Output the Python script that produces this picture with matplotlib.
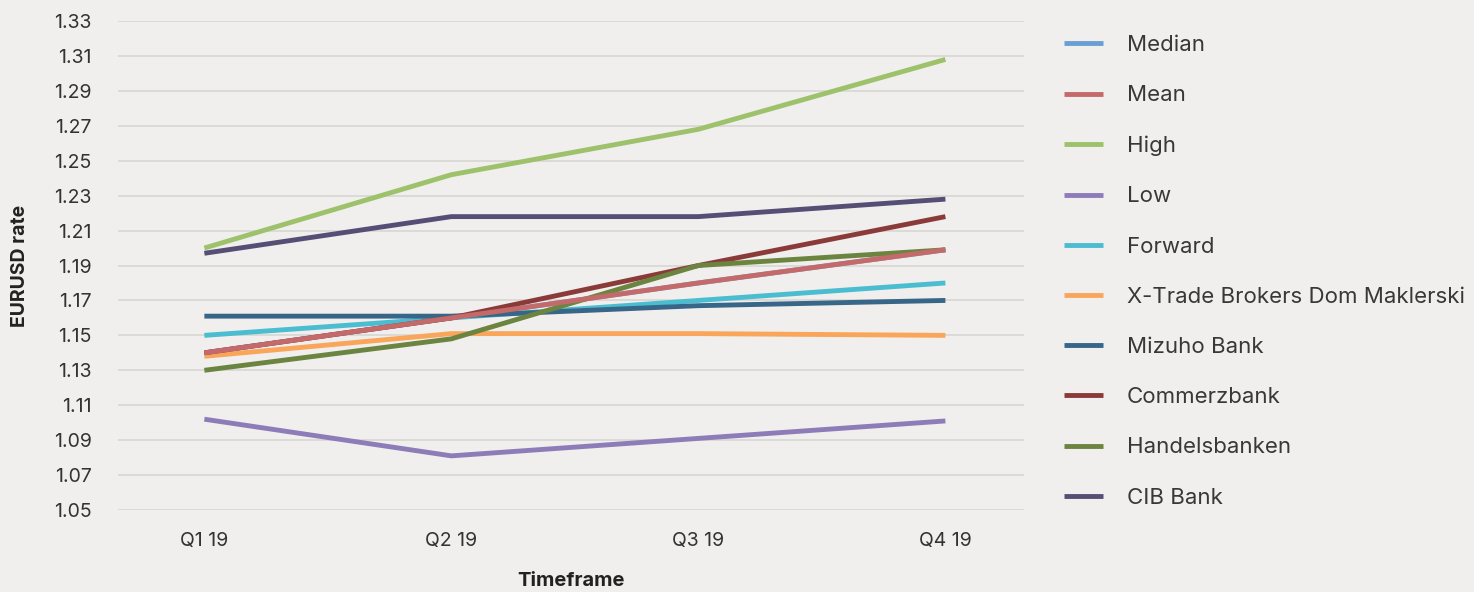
import matplotlib.pyplot as plt

plt.rcParams['font.family'] = ['Inter', 'DejaVu Sans']

quarters = ['Q1 19', 'Q2 19', 'Q3 19', 'Q4 19']
names = ['Median', 'Mean', 'High', 'Low', 'Forward', 'X-Trade Brokers Dom Maklerski',
         'Mizuho Bank', 'Commerzbank', 'Handelsbanken', 'CIB Bank']
median = [1.14, 1.16, 1.18, 1.199]
mean = [1.14, 1.16, 1.18, 1.199]
high = [1.20, 1.242, 1.268, 1.308]
low = [1.102, 1.081, 1.091, 1.101]
forward = [1.150, 1.160, 1.170, 1.180]
xtrade = [1.138, 1.151, 1.151, 1.150]
mizuho = [1.161, 1.161, 1.167, 1.170]
commerz = [1.140, 1.160, 1.190, 1.218]
handels = [1.130, 1.148, 1.190, 1.199]
cib = [1.197, 1.218, 1.218, 1.228]
series = [median, mean, high, low, forward, xtrade, mizuho, commerz, handels, cib]
colors = ['#6a9fd3', '#c56a6a', '#9dc26b', '#8e7cb8', '#4bbdd0', '#f9a65a',
          '#376688', '#8b3a3a', '#6b8440', '#564e75']

bg = '#f0efed'
fig = plt.figure(figsize=(14.74, 5.92), dpi=100, facecolor=bg)
ax = fig.add_axes([0.080, 0.1385, 0.615, 0.826], facecolor=bg)

x = range(len(quarters))
for vals, name, c in zip(series, names, colors):
    z = 3 if name == 'Mean' else 2  # mean sits on top of the bank lines
    ax.plot(x, vals, color=c, lw=3.5, label=name, solid_capstyle='butt', zorder=z)

ax.set_ylim(1.05, 1.33)
ax.set_xlim(-0.35, 3.32)
ax.set_yticks([1.05 + 0.02 * i for i in range(15)])
ax.set_yticklabels(['%.2f' % (1.05 + 0.02 * i) for i in range(15)])
ax.set_xticks(list(x))
ax.set_xticklabels(quarters)
ax.tick_params(length=0, labelsize=14, colors='#333333')
ax.tick_params(axis='y', pad=19)
ax.tick_params(axis='x', pad=16)
ax.grid(axis='y', color='#dad8d5', lw=1.3)
ax.set_axisbelow(True)
for s in ax.spines.values():
    s.set_visible(False)

ax.set_ylabel('EURUSD rate', fontsize=14, fontweight='bold', color='#222222', labelpad=18)
ax.set_xlabel('Timeframe', fontsize=14.5, fontweight='bold', color='#222222', labelpad=16)

leg = ax.legend(loc='upper left', bbox_to_anchor=(1.022, 1.012), frameon=False,
                fontsize=16, handlelength=1.75, handletextpad=1.05, labelspacing=1.36)
for t in leg.get_texts():
    t.set_color('#383838')

fig.savefig('out.png', facecolor=bg)
